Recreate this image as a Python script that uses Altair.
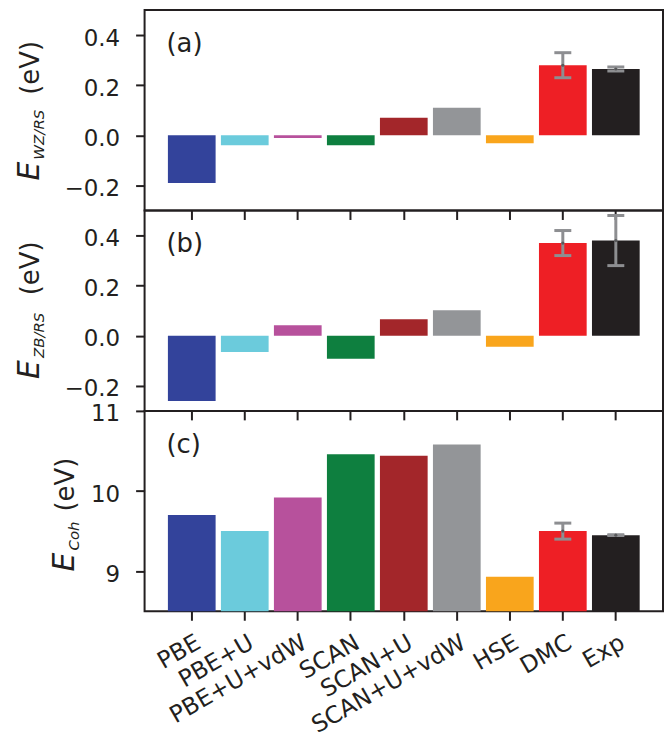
import altair as alt
import pandas as pd

methods = ["PBE", "PBE+U", "PBE+U+vdW", "SCAN", "SCAN+U", "SCAN+U+vdW", "HSE", "DMC", "Exp"]
bar_colors = ["#33439b", "#6bcbdc", "#b7519c", "#0e7f3f", "#a3262a",
              "#939598", "#f9a51c", "#ee1f25", "#231f20"]

e_wz_rs = [-0.19, -0.04, -0.011, -0.04, 0.07, 0.11, -0.032, 0.28, 0.265]
e_zb_rs = [-0.261, -0.065, 0.042, -0.092, 0.066, 0.102, -0.044, 0.37, 0.38]
e_coh = [9.70, 9.50, 9.92, 10.46, 10.44, 10.58, 8.93, 9.50, 9.45]

err_methods = ["DMC", "Exp"]
err_wz_rs = [0.05, 0.008]
err_zb_rs = [0.05, 0.10]
err_coh = [0.10, 0.005]

ticks_ab = [-0.2, 0.0, 0.2, 0.4]
ticks_c = [9, 10, 11]
panel_tags = ["(a)", "(b)", "(c)"]
title_main = "E"
title_subs = ["WZ/RS", "ZB/RS", "Coh"]
title_unit = "(eV)"

FONT = "DejaVu Sans"
INK = "#231f20"
ERR = "#8d8e91"
W, H = 520, 201

xscale = alt.Scale(domain=methods, paddingInner=0.1, paddingOuter=0.44)


def panel(values, errs, domain, ticks, label_expr, tag, sub, bottom, tpos):
    df = pd.DataFrame({"method": methods, "value": values})
    centers = [values[methods.index(m)] for m in err_methods]
    edf = pd.DataFrame({"method": err_methods, "center": centers, "err": errs})
    edf["lo"] = edf["center"] - edf["err"]
    edf["hi"] = edf["center"] + edf["err"]

    xaxis = alt.Axis(
        title=None, domain=False, grid=False, ticks=True, tickSize=9,
        tickWidth=2, tickColor=INK, labels=bottom, labelAngle=330,
        labelAlign="right", labelBaseline="top", labelPadding=10,
        labelOffset=1, labelFont=FONT, labelFontSize=23.5, labelColor=INK,
        labelOverlap=False, labelBound=False, labelFlush=False,
    )
    xenc = alt.X("method:N", sort=methods, scale=xscale, axis=xaxis)
    yaxis = alt.Axis(
        title=None, domain=False, grid=False, values=ticks, tickSize=9,
        tickWidth=2, tickColor=INK, labelPadding=16, labelOffset=3,
        labelFont=FONT, labelFontSize=23, labelColor=INK, labelExpr=label_expr,
    )
    yscale = alt.Scale(domain=domain, nice=False, zero=False)

    bars = alt.Chart(df).mark_bar(clip=True).encode(
        x=xenc,
        y=alt.Y("value:Q", scale=yscale, axis=yaxis),
        y2=alt.datum(0),
        color=alt.Color("method:N", scale=alt.Scale(domain=methods, range=bar_colors), legend=None),
    )
    err_base = alt.Chart(edf)
    rule = err_base.mark_rule(color=ERR, strokeWidth=3).encode(
        x=xenc, y=alt.Y("lo:Q", scale=yscale, axis=yaxis), y2="hi:Q")
    caps = err_base.transform_fold(["lo", "hi"], as_=["k", "v"]).mark_tick(
        color=ERR, size=17, thickness=3, orient="horizontal", opacity=1).encode(
        x=xenc, y=alt.Y("v:Q", scale=yscale, axis=yaxis))
    dots = err_base.mark_point(filled=True, size=10, color="#58595b", opacity=1).encode(
        x=xenc, y=alt.Y("center:Q", scale=yscale, axis=yaxis))

    tagc = alt.Chart(pd.DataFrame({"t": [tag]})).mark_text(
        font=FONT, fontSize=26, color=INK, align="left", baseline="top").encode(
        x=alt.value(22), y=alt.value(21), text="t:N")

    ex, ey, sx, sy, ux, uy = tpos
    t_e = alt.Chart(pd.DataFrame({"t": [title_main]})).mark_text(
        font=FONT, fontSize=30, fontStyle="italic", color=INK, angle=270,
        align="left", baseline="alphabetic").encode(
        x=alt.value(ex), y=alt.value(ey), text="t:N")
    t_s = alt.Chart(pd.DataFrame({"t": [sub]})).mark_text(
        font=FONT, fontSize=15, fontStyle="italic", color=INK, angle=270,
        align="left", baseline="alphabetic").encode(
        x=alt.value(sx), y=alt.value(sy), text="t:N")
    t_u = alt.Chart(pd.DataFrame({"t": [title_unit]})).mark_text(
        font=FONT, fontSize=26, color=INK, angle=270,
        align="left", baseline="alphabetic").encode(
        x=alt.value(ux), y=alt.value(uy), text="t:N")

    return alt.layer(bars, rule, caps, dots, tagc, t_e, t_s, t_u).properties(width=W, height=H)


lab_ab = "replace(format(datum.value, '.1f'), '-', '\u2212')"
lab_c = "format(datum.value, 'd')"

pa = panel(e_wz_rs, err_wz_rs, [-0.3, 0.5], ticks_ab, lab_ab, panel_tags[0], title_subs[0], False,
           (-106, 171, -101, 150, -106, 85))
pb = panel(e_zb_rs, err_zb_rs, [-0.3, 0.5], ticks_ab, lab_ab, panel_tags[1], title_subs[1], False,
           (-106, 169, -101, 148, -106, 85))
pc = panel(e_coh, err_coh, [8.5, 11], ticks_c, lab_c, panel_tags[2], title_subs[2], True,
           (-71, 161, -66, 140, -71, 101))

chart = alt.vconcat(pa, pb, pc, spacing=0, bounds="flush").properties(
    padding={"left": 6, "top": 0, "right": 0, "bottom": 0}
).configure_view(stroke=INK, strokeWidth=2)

chart.save("out.html", embed_options={"renderer": "svg", "actions": False})
